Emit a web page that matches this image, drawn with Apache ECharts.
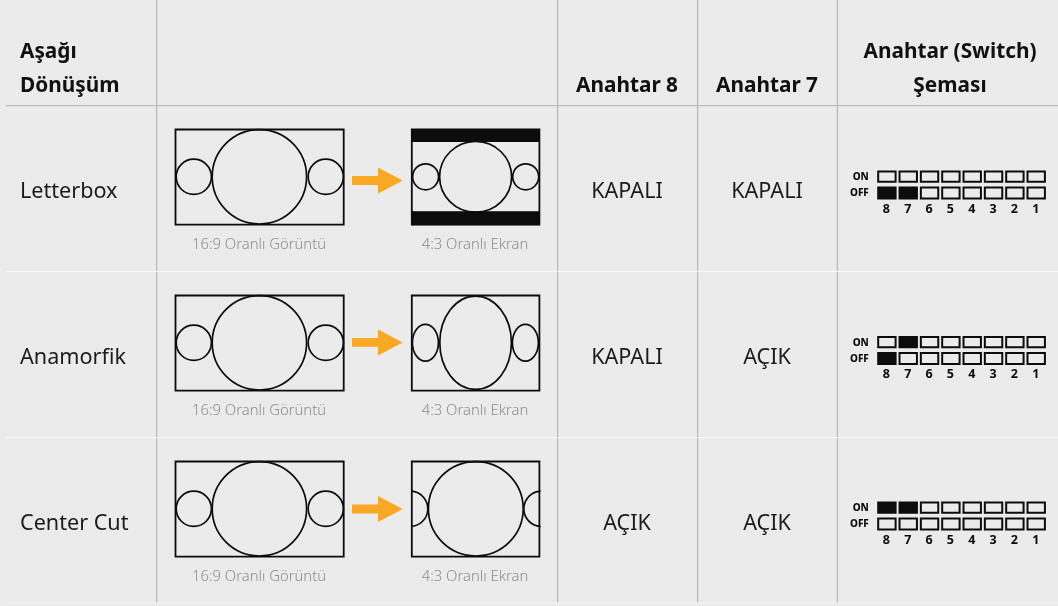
<!DOCTYPE html>
<html><head><meta charset="utf-8">
<style>html,body{margin:0;padding:0;background:#ebebeb}#c{width:1058px;height:606px}</style>
<script src="https://cdn.jsdelivr.net/npm/echarts@6/dist/echarts.min.js"></script>
</head><body><div id="c"></div>
<script>
// ---- table content ----
const conversions = ['Letterbox', 'Anamorfik', 'Center Cut'];
const switch8 = ['KAPALI', 'KAPALI', 'AÇIK'];
const switch7 = ['KAPALI', 'AÇIK', 'AÇIK'];
const switchNumbers = [8, 7, 6, 5, 4, 3, 2, 1];
const onLabel = 'ON';
const offLabel = 'OFF';
const openWord = 'AÇIK';
const sourceCaption = '16:9 Oranlı Görüntü';
const targetCaption = '4:3 Oranlı Ekran';
const headerFirst = ['Aşağı', 'Dönüşüm'];
const header8 = 'Anahtar 8';
const header7 = 'Anahtar 7';
const headerSwitch = ['Anahtar (Switch)', 'Şeması'];

const FF = '"Noto Sans", "Open Sans", sans-serif';
const INK = '#0c0c0c';
const rowIdx = conversions.map((_, i) => [i]);
const rowOff = i => [0, 166, 332][i];

function renderRow(params, api) {
  const i = api.value(0), d = rowOff(i);
  const P = (x, y) => api.coord([x, y + d]);
  const kids = [];
  const text = (x, y, t, font, fill, align) => {
    const p = P(x, y);
    kids.push({type: 'text', x: p[0], y: p[1], style: {text: t, font, fill, align: align || 'center', verticalAlign: 'middle'}});
  };
  const rect = (x0, y0, x1, y1, filled, lw) => {
    const a = P(x0, y0), b = P(x1, y1);
    kids.push({type: 'rect', shape: {x: a[0], y: a[1], width: b[0] - a[0], height: b[1] - a[1]},
      style: {fill: filled ? INK : 'none', stroke: INK, lineWidth: lw || 1.8}});
  };
  const ell = (cx, cy, rx, ry) => {
    const p = P(cx, cy);
    kids.push({type: 'ellipse', shape: {cx: p[0], cy: p[1], rx, ry}, style: {fill: 'none', stroke: INK, lineWidth: 1.7}});
  };
  const arc = (cx, cy, r, s, e) => {
    const p = P(cx, cy);
    kids.push({type: 'arc', shape: {cx: p[0], cy: p[1], r, startAngle: s, endAngle: e}, style: {fill: 'none', stroke: INK, lineWidth: 1.7}});
  };
  // row label & switch words
  text(20, 192, conversions[i], '400 21.6px ' + FF, '#1c1c1c', 'left');
  text(627, 192, switch8[i], '400 21.6px ' + FF, '#1c1c1c');
  text(767, 192, switch7[i], '400 21.6px ' + FF, '#1c1c1c');
  // source frame 16:9
  rect(175.5, 129.5, 343.7, 224.6);
  ell(259.4, 176.8, 47.2, 47.2);
  ell(193.8, 176.8, 17.6, 17.6);
  ell(325.8, 176.8, 17.6, 17.6);
  text(259, 245, sourceCaption, '300 14.8px ' + FF, '#8d8d8d');
  // target frame 4:3
  rect(411.8, 129.5, 539.4, 224.6);
  if (i === 0) {
    rect(411.8, 129.5, 539.4, 141.5, true, 1);
    rect(411.8, 211.8, 539.4, 224.6, true, 1);
    ell(475.6, 176.8, 36, 35.4);
    ell(425.6, 176.8, 13, 13);
    ell(525.7, 176.8, 13, 13);
  } else if (i === 1) {
    ell(475.6, 176.8, 35.8, 46.6);
    ell(425.4, 176.8, 13, 18.4);
    ell(525.4, 176.8, 13, 18.4);
  } else {
    ell(475.8, 176.8, 47.4, 47.2);
    arc(410.2, 176.8, 17.6, -Math.PI / 2 + 0.05, Math.PI / 2 - 0.05);
    arc(541.4, 176.8, 17.6, Math.PI / 2 + 0.05, 3 * Math.PI / 2 - 0.05);
  }
  text(475, 245, targetCaption, '300 14.8px ' + FF, '#8d8d8d');
  // arrow
  const ay = [180.5, 176.4, 177][i];
  const pts = [[352, ay - 4.4], [378, ay - 4.4], [378, ay - 13], [402.7, ay], [378, ay + 13], [378, ay + 4.4], [352, ay + 4.4]];
  kids.push({type: 'polygon', shape: {points: pts.map(q => P(q[0], q[1]))}, style: {fill: '#f9a825'}});
  // dip switch
  const sd = [0, -0.5, -1][i];
  text(868.8, 177.6 + sd, onLabel, '800 10px ' + FF, INK, 'right');
  text(868.8, 193.4 + sd, offLabel, '800 10px ' + FF, INK, 'right');
  switchNumbers.forEach((n, k) => {
    const x0 = 878.2 + k * 21.33, x1 = x0 + 17.4;
    const on = (k === 0 && switch8[i] === openWord) || (k === 1 && switch7[i] === openWord);
    const off = (k === 0 && switch8[i] !== openWord) || (k === 1 && switch7[i] !== openWord);
    rect(x0, 171.6 + sd, x1, 181.8 + sd, on, 2);
    rect(x0, 187.6 + sd, x1, 198.4 + sd, off, 2);
    text(x0 + 8.2, 209.2 + sd, String(n), '700 12.5px ' + FF, INK);
  });
  return {type: 'group', children: kids};
}

function renderFrame(params, api) {
  const P = (x, y) => api.coord([x, y]);
  const kids = [];
  const line = (x0, y0, x1, y1, c, w) => {
    const a = P(x0, y0), b = P(x1, y1);
    kids.push({type: 'line', shape: {x1: a[0], y1: a[1], x2: b[0], y2: b[1]}, style: {stroke: c, lineWidth: w}});
  };
  [156.7, 557.6, 697.6, 837.4].forEach(x => line(x, 0, x, 603, '#b7b7b7', 1.2));
  line(6, 105.6, 1058, 105.6, '#bdbdbd', 1.2);
  line(6, 271.6, 1058, 271.6, '#fbfbfb', 1);
  line(6, 437.6, 1058, 437.6, '#fbfbfb', 1);
  line(6, 603, 1058, 603, '#f4f4f4', 1);
  const text = (x, y, t, align) => {
    const p = P(x, y);
    kids.push({type: 'text', x: p[0], y: p[1], style: {text: t, font: '700 20.8px ' + FF, fill: '#111', align, verticalAlign: 'middle'}});
  };
  text(20, 52.5, headerFirst[0], 'left');
  text(20, 86, headerFirst[1], 'left');
  text(627, 86, header8, 'center');
  text(767, 86, header7, 'center');
  text(950, 52.5, headerSwitch[0], 'center');
  text(950, 86, headerSwitch[1], 'center');
  return {type: 'group', children: kids};
}

const chart = echarts.init(document.getElementById('c'), null, {renderer: 'canvas'});
chart.setOption({
  animation: false,
  backgroundColor: '#ebebeb',
  grid: {left: 0, right: 0, top: 0, bottom: 0},
  xAxis: {type: 'value', min: 0, max: 1058, show: false},
  yAxis: {type: 'value', min: 0, max: 606, inverse: true, show: false},
  series: [
    {type: 'custom', data: [[0]], renderItem: renderFrame, silent: true, clip: false, encode: {x: 0}},
    {type: 'custom', data: rowIdx, renderItem: renderRow, silent: true, clip: false, encode: {x: 0}}
  ]
});
</script></body></html>
